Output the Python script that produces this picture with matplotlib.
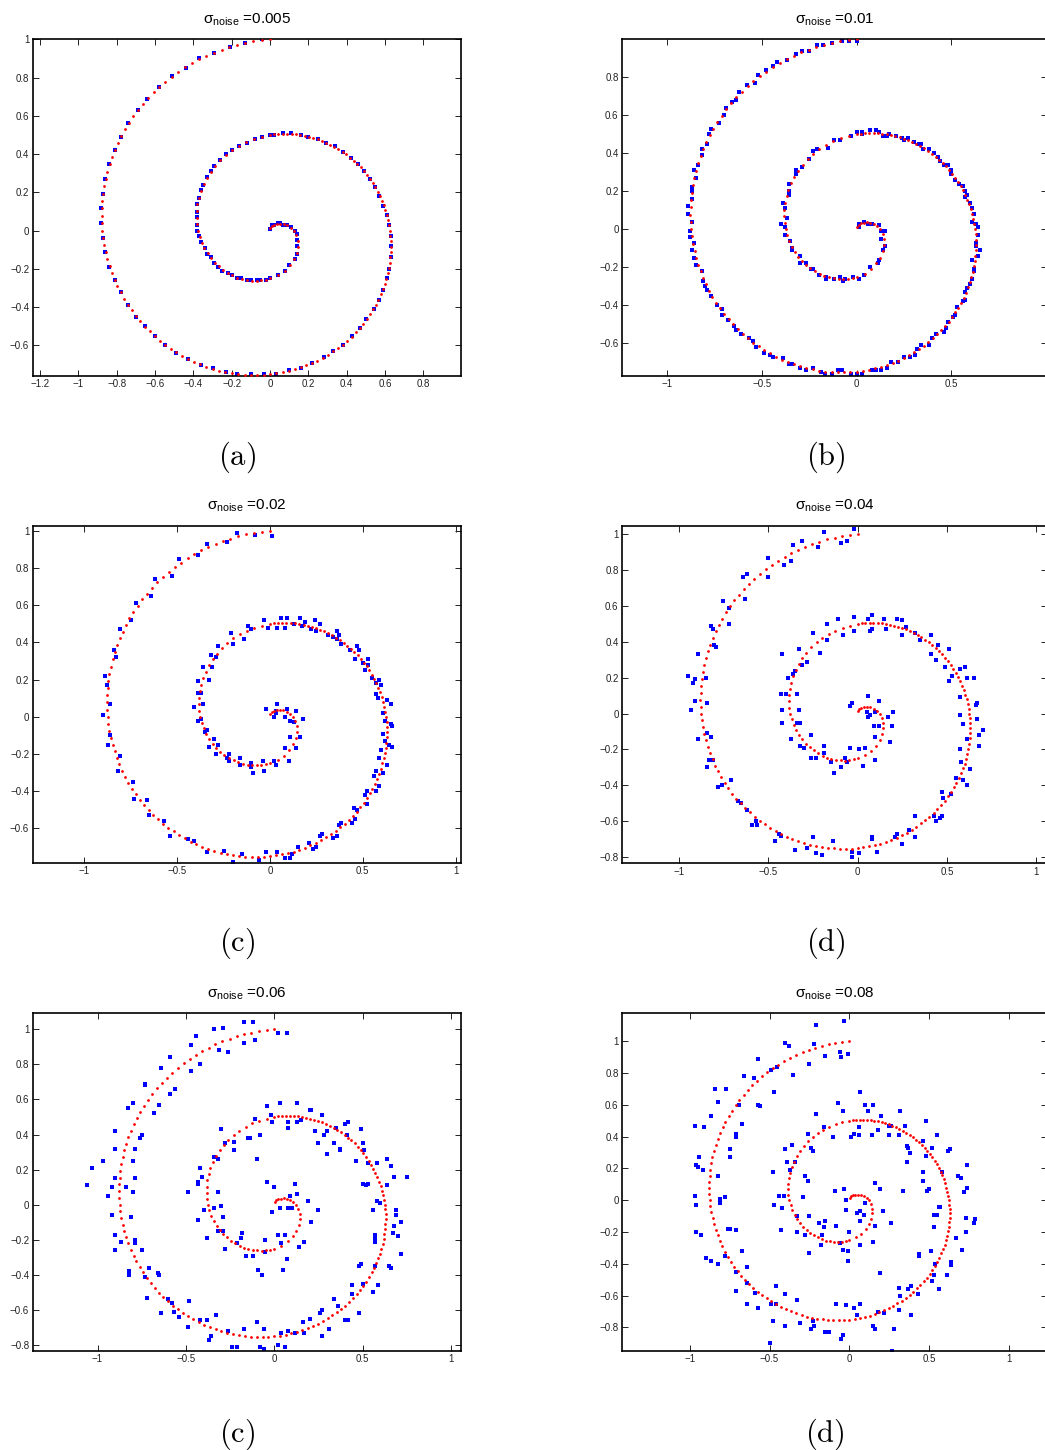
import matplotlib
matplotlib.use('Agg')
import matplotlib.pyplot as plt

# ---------------- data ----------------
# noise-free spiral (red)
spiral_x = [.002,.010,.021,.036,.053,.072,.091,.109,.125,.137,.144,.144,.138,.125,.104,.076,.041,.000,
 -.022,-.046,-.070,-.095,-.120,-.146,-.171,-.196,-.221,-.245,-.267,-.289,-.308,-.326,-.342,-.356,-.367,-.375,
 -.381,-.383,-.382,-.379,-.371,-.361,-.347,-.330,-.309,-.286,-.259,-.229,-.197,-.162,-.124,-.084,-.043,.000,
 .022,.044,.067,.089,.112,.135,.158,.181,.203,.226,.249,.271,.293,.315,.336,.357,.378,.398,.417,.436,.455,.472,.489,.505,.521,.535,.549,.561,.573,.584,.593,.602,.609,.616,.621,.625,
 .628,.630,.630,.629,.627,.624,.619,.613,.606,.598,.588,.577,.565,.552,.537,.521,.504,.486,.467,.446,.425,.402,.379,.354,.329,.302,.275,.247,.218,.189,.159,.128,.097,.065,.033,.000,
 -.033,-.066,-.099,-.133,-.166,-.200,-.233,-.266,-.299,-.332,-.364,-.396,-.427,-.458,-.488,-.518,-.547,-.575,-.602,-.628,-.653,-.677,-.700,-.722,-.742,-.762,-.780,-.796,-.811,-.825,-.837,-.848,-.857,-.865,-.871,-.875,
 -.878,-.879,-.878,-.875,-.871,-.865,-.858,-.848,-.837,-.825,-.810,-.794,-.776,-.757,-.736,-.713,-.689,-.663,-.636,-.607,-.577,-.546,-.513,-.479,-.444,-.408,-.371,-.333,-.293,-.253,-.213,-.171,-.129,-.087,-.043,.000]
spiral_y = [.014,.024,.031,.035,.036,.034,.027,.016,.000,-.024,-.052,-.083,-.116,-.149,-.180,-.209,-.233,-.250,
 -.256,-.260,-.262,-.261,-.258,-.253,-.245,-.234,-.221,-.205,-.187,-.167,-.144,-.119,-.092,-.063,-.032,.000,
 .033,.068,.102,.138,.173,.208,.243,.277,.309,.340,.370,.397,.422,.444,.463,.479,.491,.500,
 .503,.505,.506,.506,.505,.503,.500,.496,.491,.485,.477,.469,.460,.449,.438,.426,.412,.398,.382,.366,.349,.331,.312,.292,.271,.250,.227,.204,.181,.156,.132,.106,.080,.054,.027,.000,
 -.027,-.055,-.083,-.111,-.139,-.167,-.195,-.223,-.251,-.279,-.306,-.333,-.360,-.386,-.412,-.438,-.462,-.486,-.510,-.532,-.554,-.575,-.595,-.613,-.631,-.648,-.664,-.679,-.692,-.704,-.715,-.725,-.733,-.740,-.746,-.750,
 -.753,-.754,-.754,-.752,-.749,-.745,-.738,-.731,-.722,-.711,-.699,-.686,-.671,-.654,-.636,-.617,-.597,-.575,-.551,-.527,-.501,-.474,-.446,-.417,-.386,-.355,-.323,-.290,-.256,-.221,-.186,-.150,-.113,-.076,-.038,.000,
 .038,.077,.116,.154,.193,.232,.270,.309,.347,.384,.422,.458,.494,.530,.564,.598,.631,.663,.694,.723,.752,.779,.805,.830,.853,.875,.895,.914,.931,.946,.959,.971,.981,.989,.996,1.000]

# noisy samples (blue), one list per panel
noisy_a = [(0,.01),(.01,.03),(.02,.03),(.04,.04),(.05,.04),(.07,.03),(.09,.03),(.11,.02),(.13,0),(.14,-.02),(.14,-.05),(.14,-.08),(.14,-.12),(.13,-.15),(.10,-.18),(.08,-.21),(.04,-.23),(0,-.25),
 (-.02,-.26),(-.05,-.26),(-.07,-.26),(-.10,-.26),(-.12,-.26),(-.15,-.25),(-.17,-.25),(-.20,-.23),(-.22,-.22),(-.25,-.21),(-.27,-.19),(-.29,-.17),(-.31,-.14),(-.33,-.12),(-.34,-.09),(-.36,-.06),(-.37,-.03),(-.38,0),
 (-.38,.03),(-.38,.07),(-.38,.10),(-.38,.14),(-.37,.17),(-.36,.21),(-.35,.24),(-.33,.28),(-.31,.31),(-.29,.34),(-.26,.37),(-.23,.40),(-.20,.42),(-.16,.44),(-.12,.46),(-.08,.48),(-.04,.49),(0,.50),
 (.02,.50),(.07,.51),(.11,.51),(.16,.50),(.20,.49),(.25,.48),(.29,.46),(.34,.44),(.38,.41),(.42,.38),(.46,.35),(.49,.31),(.52,.27),(.55,.23),(.57,.18),(.59,.13),(.61,.08),(.62,.03),
 (.63,-.03),(.63,-.08),(.63,-.14),(.62,-.20),(.61,-.25),(.59,-.31),(.57,-.36),(.54,-.41),(.50,-.46),(.47,-.51),(.43,-.55),(.38,-.60),(.33,-.63),(.28,-.66),(.22,-.69),(.16,-.72),(.10,-.73),(.03,-.75),
 (-.03,-.75),(-.10,-.75),(-.17,-.75),(-.23,-.74),(-.30,-.72),(-.36,-.70),(-.43,-.67),(-.49,-.64),(-.55,-.60),(-.60,-.55),(-.65,-.50),(-.70,-.45),(-.74,-.39),(-.78,-.32),(-.81,-.26),(-.84,-.19),(-.86,-.11),(-.87,-.04),
 (-.88,.04),(-.88,.12),(-.87,.19),(-.86,.27),(-.84,.35),(-.81,.42),(-.78,.49),(-.74,.56),(-.69,.63),(-.64,.69),(-.58,.75),(-.51,.81),(-.44,.85),(-.37,.90),(-.29,.93),(-.21,.96),(-.13,.98),(-.04,1.0)]

noisy_b = [(.01,.01),(.01,.02),(.01,.03),(.04,.04),(.06,.03),(.07,.03),(.08,.03),(.12,.02),(.13,-.01),(.15,-.01),(.13,-.05),(.15,-.09),(.14,-.11),(.12,-.16),(.11,-.18),(.07,-.20),(.04,-.24),(.01,-.26),
 (-.02,-.25),(-.06,-.26),(-.07,-.27),(-.09,-.25),(-.12,-.26),(-.16,-.26),(-.16,-.25),(-.20,-.24),(-.23,-.21),(-.24,-.21),(-.27,-.18),(-.30,-.18),(-.30,-.14),(-.34,-.11),(-.34,-.10),(-.35,-.06),(-.38,-.03),(-.38,.01),
 (-.40,.03),(-.37,.06),(-.38,.11),(-.39,.14),(-.36,.18),(-.36,.20),(-.36,.24),(-.32,.29),(-.32,.31),(-.29,.33),(-.25,.37),(-.23,.41),(-.21,.42),(-.15,.43),(-.12,.47),(-.09,.47),(-.03,.49),(0,.51),
 (.03,.51),(.10,.52),(.14,.49),(.17,.50),(.24,.48),(.27,.48),(.33,.45),(.35,.42),(.41,.40),(.44,.36),(.48,.34),(.50,.29),(.54,.24),(.57,.20),(.57,.17),(.61,.11),(.61,.04),(.64,.01),
 (.63,-.07),(.65,-.11),(.61,-.16),(.62,-.22),(.60,-.29),(.57,-.33),(.56,-.38),(.52,-.45),(.48,-.49),(.46,-.54),(.40,-.57),(.34,-.61),(.31,-.66),(.25,-.67),(.18,-.70),(.13,-.74),(.08,-.74),(0,-.76),
 (-.08,-.74),(-.13,-.76),(-.19,-.75),(-.27,-.74),(-.34,-.71),(-.39,-.68),(-.46,-.66),(-.53,-.62),(-.57,-.57),(-.64,-.53),(-.68,-.48),(-.71,-.42),(-.77,-.35),(-.80,-.30),(-.82,-.22),(-.86,-.15),(-.86,-.07),(-.88,-.01),
 (-.89,.08),(-.87,.16),(-.87,.22),(-.86,.31),(-.82,.39),(-.79,.45),(-.77,.53),(-.70,.60),(-.66,.67),(-.62,.72),(-.54,.77),(-.48,.84),(-.42,.88),(-.32,.92),(-.25,.94),(-.18,.97),(-.08,.99),(0,.99),
 (.03,.50),(.07,.52),(.12,.51),(.16,.49),(.21,.49),(.25,.47),(.30,.46),(.34,.45),(.38,.42),(.43,.38),(.46,.34),(.50,.31),(.52,.26),(.56,.23),(.58,.18),(.60,.14),(.62,.08),(.63,.03),
 (.64,-.03),(.63,-.09),(.64,-.14),(.62,-.21),(.61,-.26),(.58,-.31),(.57,-.37),(.53,-.41),(.51,-.46),(.47,-.52),(.42,-.55),(.38,-.61),(.32,-.63),(.28,-.67),(.22,-.70),(.16,-.73),(.10,-.74),(.03,-.76),
 (-.03,-.76),(-.10,-.74),(-.17,-.76),(-.23,-.73),(-.30,-.73),(-.36,-.71),(-.44,-.67),(-.49,-.65),(-.55,-.59),(-.61,-.55),(-.65,-.51),(-.71,-.45),(-.74,-.40),(-.79,-.32),(-.81,-.27),(-.85,-.19),(-.87,-.11),(-.88,-.04),
 (-.87,.04),(-.89,.12),(-.87,.20),(-.85,.27),(-.84,.34),(-.82,.42),(-.78,.50),(-.73,.56),(-.69,.64),(-.64,.68),(-.58,.76),(-.52,.81),(-.44,.86),(-.37,.89),(-.29,.94),(-.21,.97),(-.13,.98),(-.04,.99)]

noisy_c = [(.02,0),(-.02,.04),(.03,.02),(.04,.07),(.03,.03),(.09,.04),(.08,0),(.14,.03),(.11,-.02),(.18,-.01),(.13,-.03),(.16,-.11),(.11,-.11),(.14,-.17),(.08,-.17),(.10,-.24),(.03,-.26),(.02,-.24),
 (-.03,-.29),(-.04,-.24),(-.09,-.30),(-.10,-.25),(-.10,-.27),(-.16,-.22),(-.16,-.26),(-.22,-.24),(-.22,-.20),(-.23,-.22),(-.29,-.20),(-.28,-.15),(-.33,-.16),(-.30,-.12),(-.35,-.08),(-.34,-.07),(-.39,-.02),(-.37,-.01),
 (-.41,.05),(-.36,.07),(-.39,.13),(-.37,.13),(-.39,.19),(-.33,.20),(-.36,.27),(-.31,.27),(-.32,.33),(-.29,.32),(-.28,.38),(-.20,.39),(-.21,.45),(-.14,.42),(-.12,.49),(-.10,.47),(-.03,.52),(-.01,.48),
 (.06,.53),(.08,.48),(.16,.53),(.17,.49),(.24,.52),(.25,.46),(.34,.43),(.36,.46),(.38,.39),(.47,.38),(.46,.31),(.53,.31),(.51,.25),(.57,.18),(.60,.17),(.58,.10),(.65,.07),(.62,-.02),
 (.66,-.05),(.62,-.13),(.64,-.15),(.59,-.22),(.61,-.30),(.56,-.32),(.57,-.40),(.51,-.42),(.47,-.50),(.46,-.55),(.38,-.57),(.36,-.64),(.28,-.63),(.25,-.70),(.21,-.68),(.12,-.74),(.08,-.76),(-.02,-.73),
 (-.06,-.77),(-.15,-.74),(-.20,-.78),(-.25,-.72),(-.34,-.73),(-.41,-.67),(-.44,-.66),(-.54,-.64),(-.57,-.56),(-.65,-.53),(-.66,-.45),(-.73,-.44),(-.74,-.35),(-.82,-.29),(-.81,-.21),(-.87,-.15),(-.86,-.10),(-.90,.01),
 (-.86,.07),(-.88,.17),(-.89,.22),(-.83,.32),(-.84,.36),(-.81,.47),(-.75,.52),(-.72,.61),(-.64,.65),(-.62,.74),(-.53,.76),(-.49,.85),(-.39,.87),(-.34,.93),(-.23,.94),(-.18,.99),(-.08,.98),(.01,.97),
 (.04,.48),(.09,.53),(.13,.50),(.19,.51),(.22,.47),(.27,.50),(.31,.44),(.36,.42),(.37,.44),(.43,.36),(.48,.36),(.50,.29),(.53,.28),(.55,.21),(.59,.20),(.57,.12),(.63,.09),(.61,.02),
 (.65,-.04),(.61,-.09),(.66,-.16),(.60,-.18),(.63,-.26),(.57,-.29),(.59,-.37),(.52,-.40),(.52,-.47),(.45,-.49),(.44,-.57),(.37,-.58),(.34,-.65),(.27,-.64),(.23,-.71),(.15,-.70),(.11,-.76),(.04,-.73)]

noisy_d = [(-.03,.06),(.05,.01),(-.04,.04),(.06,.10),(.10,.01),(.06,-.02),(.12,.07),(.07,-.01),(.20,.01),(.12,-.07),(.17,-.02),(.09,-.07),(.18,-.16),(.10,-.13),(.04,-.19),(.10,-.26),(.01,-.20),(.03,-.29),
 (-.07,-.25),(-.04,-.19),(-.09,-.30),(-.06,-.27),(-.13,-.33),(-.19,-.22),(-.15,-.27),(-.23,-.25),(-.19,-.18),(-.30,-.19),(-.26,-.25),(-.32,-.18),(-.26,-.12),(-.37,-.14),(-.32,-.05),(-.42,-.05),(-.34,-.05),(-.42,.02),
 (-.33,.02),(-.40,.11),(-.34,.11),(-.43,.11),(-.36,.22),(-.39,.20),(-.31,.27),(-.35,.24),(-.28,.29),(-.33,.36),(-.21,.34),(-.25,.45),(-.17,.41),(-.17,.50),(-.08,.44),(-.11,.53),(-.02,.46),(-.02,.54),
 (.07,.46),(.08,.55),(.16,.47),(.15,.53),(.27,.48),(.25,.52),(.35,.41),(.32,.45),(.45,.38),(.41,.33),(.51,.36),(.49,.26),(.60,.26),(.51,.18),(.61,.20),(.57,.09),(.67,.06),(.57,-.01),
 (.67,-.03),(.61,-.14),(.68,-.18),(.57,-.20),(.63,-.31),(.55,-.36),(.59,-.37),(.48,-.47),(.52,-.45),(.43,-.57),(.44,-.60),(.32,-.57),(.32,-.69),(.21,-.69),(.22,-.67),(.11,-.77),(.08,-.69),(-.03,-.80),
 (-.03,-.77),(-.14,-.71),(-.23,-.78),(-.25,-.69),(-.35,-.76),(-.44,-.67),(-.43,-.68),(-.57,-.60),(-.56,-.62),(-.67,-.49),(-.65,-.50),(-.76,-.40),(-.71,-.37),(-.83,-.26),(-.81,-.26),(-.89,-.14),(-.84,-.11),(-.93,.02),
 (-.84,.06),(-.91,.19),(-.85,.20),(-.89,.33),(-.79,.37),(-.82,.49),(-.72,.50),(-.75,.63),(-.63,.64),(-.64,.76),(-.50,.76),(-.50,.87),(-.37,.85),(-.36,.94),(-.22,.93),(-.19,1.01),(-.06,.96),(-.02,1.03),
 (.06,.53),(.08,.47),(.22,.53),(.25,.44),(.41,.44),(.44,.30),(.57,.25),(.53,.21),(.66,.05),(.59,-.06),(.68,-.12),(.58,-.27),(.61,-.40),(.47,-.44),(.46,-.58),(.29,-.65),(.25,-.73),(.08,-.70),
 (.01,-.78),(-.20,-.79),(-.28,-.75),(-.46,-.71),(-.59,-.62),(-.62,-.54),(-.78,-.41),(-.84,-.30),(-.82,-.13),(-.91,.07),(-.92,.17),(-.80,.38),(-.81,.47),(-.72,.59),(-.62,.78),(-.41,.83),(-.31,.96),(-.09,.95),
 (-.95,.21),(-.42,.33),(.19,-.07),(.65,.20),(.70,-.09),(.47,-.57)]

noisy_e = [(-.04,.13),(.08,-.02),(0,.10),(.13,.06),(-.01,-.04),(.12,.12),(.19,.02),(.03,-.02),(.25,-.03),(.09,.05),(.21,-.10),(.10,-.02),(.17,-.21),(.06,-.17),(.14,-.24),(.02,-.17),(.07,-.31),(-.05,-.27),
 (.04,-.22),(-.09,-.37),(-.05,-.20),(-.16,-.29),(-.05,-.27),(-.18,-.16),(-.12,-.29),(-.28,-.25),(-.19,-.19),(-.32,-.15),(-.21,-.22),(-.38,-.19),(-.29,-.07),(-.43,-.09),(-.29,-.15),(-.40,-.03),(-.30,-.01),(-.49,.07),
 (-.34,-.02),(-.43,.13),(-.32,.07),(-.41,.16),(-.43,.12),(-.32,.26),(-.42,.21),(-.28,.35),(-.34,.27),(-.23,.31),(-.30,.43),(-.15,.38),(-.23,.36),(-.11,.49),(-.14,.38),(-.02,.51),(-.08,.40),(.03,.58),
 (-.01,.47),(.13,.58),(.08,.47),(.23,.42),(.21,.54),(.35,.44),(.28,.40),(.42,.47),(.37,.32),(.49,.43),(.37,.31),(.58,.24),(.51,.31),(.66,.22),(.50,.12),(.68,.16),(.58,.02),(.69,-.06),
 (.56,-.03),(.72,-.10),(.57,-.21),(.67,-.16),(.57,-.35),(.66,-.36),(.48,-.35),(.56,-.50),(.44,-.46),(.48,-.62),(.34,-.54),(.40,-.66),(.26,-.62),(.27,-.75),(.12,-.73),(.16,-.67),(.02,-.80),(.04,-.73),
 (-.10,-.67),(-.08,-.81),(-.26,-.72),(-.24,-.81),(-.38,-.66),(-.36,-.75),(-.54,-.64),(-.48,-.55),(-.64,-.62),(-.58,-.56),(-.73,-.41),(-.65,-.40),(-.82,-.40),(-.75,-.26),(-.90,-.26),(-.79,-.20),(-.92,-.06),(-.80,.07),
 (-.94,.05),(-.84,.10),(-.97,.25),(-.80,.25),(-.90,.42),(-.76,.38),(-.80,.58),(-.65,.57),(-.73,.69),(-.56,.66),(-.59,.84),(-.42,.80),(-.44,.96),(-.26,.87),(-.29,1.01),(-.11,.94),(-.12,1.04),(.07,.98),
 (-.04,.56),(.15,.48),(.08,.44),(.20,.54),(.13,.47),(.30,.42),(.27,.51),(.40,.46),(.34,.35),(.50,.35),(.41,.40),(.53,.24),(.46,.25),(.64,.26),(.53,.12),(.64,.11),(.52,.11),(.69,-.03),
 (.60,.01),(.68,-.12),(.57,-.17),(.70,-.18),(.57,-.19),(.65,-.35),(.49,-.34),(.59,-.46),(.44,-.51),(.50,-.45),(.36,-.58),(.42,-.66),(.27,-.60),(.31,-.71),(.17,-.73),(.20,-.65),(.06,-.81),(.08,-.72),
 (-.06,-.82),(-.06,-.71),(-.21,-.81),(-.17,-.71),(-.37,-.77),(-.33,-.63),(-.49,-.70),(-.42,-.66),(-.60,-.54),(-.57,-.61),(-.72,-.53),(-.66,-.39),(-.82,-.38),(-.71,-.36),(-.87,-.21),(-.79,-.22),(-.90,-.17),(-.81,-.07),
 (-.92,.10),(-.79,.15),(-.90,.15),(-.79,.32),(-.90,.32),(-.75,.40),(-.83,.55),(-.68,.52),(-.73,.68),(-.59,.63),(-.64,.78),(-.47,.76),(-.47,.91),(-.31,.88),(-.34,1.00),(-.17,.92),(-.17,1.04),(.02,.98),
 (-1.06,.11),(-1.03,.21),(.75,.16),(.72,-.28),(-.49,.07),(-.10,.26),(.30,.29),(.25,.35),(-.07,-.40),(.05,-.37)]

noisy_f = [(-.09,.06),(.09,-.09),(-.02,0),(.16,.11),(-.02,-.06),(.10,-.02),(-.03,.07),(.21,-.07),(.07,-.13),(.19,.07),(.05,-.08),(.26,-.14),(.07,-.07),(.15,-.26),(0,-.20),(.16,-.16),(-.01,-.32),(.07,-.28),
 (-.08,-.16),(-.01,-.38),(-.17,-.22),(-.04,-.31),(-.15,-.13),(-.06,-.27),(-.25,-.33),(-.16,-.17),(-.33,-.20),(-.18,-.28),(-.33,-.10),(-.19,-.14),(-.43,-.19),(-.28,-.22),(-.42,-.05),(-.25,-.10),(-.41,.03),(-.29,.02),
 (-.47,-.03),(-.26,.12),(-.44,.03),(-.34,.24),(-.48,.18),(-.28,.15),(-.40,.32),(-.23,.31),(-.39,.24),(-.26,.42),(-.36,.35),(-.16,.46),(-.24,.33),(-.10,.40),(-.21,.54),(.03,.42),(-.07,.61),(.06,.41),
 (-.04,.56),(.18,.44),(.10,.60),(.25,.47),(.14,.41),(.32,.56),(.25,.41),(.46,.37),(.35,.47),(.52,.33),(.36,.24),(.63,.32),(.46,.18),(.62,.31),(.46,.12),(.74,.08),(.56,-.04),(.72,.05),
 (.53,-.09),(.78,-.14),(.55,-.09),(.71,-.31),(.51,-.32),(.64,-.41),(.44,-.34),(.61,-.47),(.43,-.59),(.53,-.47),(.31,-.55),(.39,-.72),(.22,-.71),(.32,-.60),(.15,-.79),(.03,-.68),(.16,-.81),(-.05,-.87),
 (-.02,-.66),(-.22,-.79),(-.13,-.83),(-.33,-.63),(-.23,-.76),(-.48,-.76),(-.40,-.59),(-.64,-.65),(-.49,-.65),(-.71,-.45),(-.64,-.52),(-.82,-.40),(-.67,-.32),(-.87,-.38),(-.71,-.19),(-.96,-.20),(-.81,-.02),(-.96,-.03),
 (-.78,.02),(-.95,.21),(-.82,.15),(-.94,.27),(-.71,.42),(-.87,.53),(-.67,.48),(-.77,.70),(-.56,.59),(-.66,.78),(-.47,.68),(-.57,.89),(-.35,.79),(-.40,.99),(-.15,.91),(-.21,1.10),(-.01,.92),(-.03,1.13),
 (.12,.56),(.01,.40),(.15,.60),(.06,.46),(.31,.41),(.20,.53),(.36,.34),(.26,.47),(.48,.50),(.38,.30),(.55,.41),(.37,.33),(.58,.18),(.48,.28),(.70,.14),(.50,.07),(.68,.15),(.49,.06),
 (.73,-.11),(.57,-.04),(.67,-.24),(.53,-.17),(.73,-.20),(.54,-.40),(.64,-.39),(.44,-.35),(.56,-.56),(.39,-.54),(.52,-.51),(.31,-.69),(.37,-.56),(.18,-.70),(.28,-.81),(.07,-.65),(.15,-.79),(-.04,-.85),
 (.05,-.72),(-.15,-.83),(-.08,-.65),(-.31,-.77),(-.24,-.81),(-.46,-.65),(-.40,-.79),(-.57,-.68),(-.46,-.54),(-.71,-.57),(-.59,-.58),(-.78,-.35),(-.64,-.42),(-.90,-.36),(-.76,-.18),(-.93,-.22),(-.75,-.18),(-.97,.03),
 (-.81,.01),(-.96,.22),(-.75,.27),(-.92,.19),(-.75,.32),(-.91,.46),(-.71,.40),(-.82,.62),(-.57,.60),(-.69,.60),(-.49,.82),(-.60,.77),(-.38,.97),(-.45,.84),(-.22,.98),(-.25,.86),(-.05,.90),(-.06,.93),
 (-.84,.70),(-.97,.47),(.79,-.12),(.74,.22),(.07,.68),(-.37,.19),(.19,-.46),(.27,-.95),(-.50,-.90),(.34,.06)]

noise_levels = ['0.005', '0.01', '0.02', '0.04', '0.06', '0.08']
captions = ['(a)', '(b)', '(c)', '(d)', '(c)', '(d)']
xticks_a = [-1.2, -1, -0.8, -0.6, -0.4, -0.2, 0, 0.2, 0.4, 0.6, 0.8]
yticks_a = [-0.6, -0.4, -0.2, 0, 0.2, 0.4, 0.6, 0.8, 1]
xticks_b = [-1, -0.5, 0, 0.5]
yticks_b = [-0.6, -0.4, -0.2, 0, 0.2, 0.4, 0.6, 0.8]
xticks_c = [-1, -0.5, 0, 0.5, 1]
yticks_c = [-0.6, -0.4, -0.2, 0, 0.2, 0.4, 0.6, 0.8, 1]
xticks_def = [-1, -0.5, 0, 0.5, 1]
yticks_def = [-0.8, -0.6, -0.4, -0.2, 0, 0.2, 0.4, 0.6, 0.8, 1]

# ---------------- style ----------------
plt.rcParams['font.family'] = ['Liberation Sans', 'DejaVu Sans']
plt.rcParams['mathtext.fontset'] = 'custom'
plt.rcParams['mathtext.rm'] = 'Liberation Sans'
plt.rcParams['mathtext.it'] = 'Liberation Sans:italic'
plt.rcParams['mathtext.bf'] = 'Liberation Sans:bold'

W, H = 1045, 1450
fig = plt.figure(figsize=(W / 100, H / 100), dpi=100)

# layout: pixel boxes (left, top, right, bottom) and axis limits
layout = [
    dict(box=(32.7, 39.3, 461, 375.7), xlim=(-1.238, 0.996), ylim=(-0.758, 1.0),
         xt=xticks_a, yt=yticks_a, pts=noisy_a, cap=(237.5, 457)),
    dict(box=(622, 39.3, 1047, 375.7), xlim=(-1.240, 1.005), ylim=(-0.771, 1.0),
         xt=xticks_b, yt=yticks_b, pts=noisy_b, cap=(826, 457)),
    dict(box=(32.7, 525.7, 461, 862.7), xlim=(-1.278, 1.029), ylim=(-0.785, 1.028),
         xt=xticks_c, yt=yticks_c, pts=noisy_c, cap=(237.5, 943)),
    dict(box=(622, 526, 1047, 863.3), xlim=(-1.317, 1.059), ylim=(-0.835, 1.046),
         xt=xticks_def, yt=yticks_def, pts=noisy_d, cap=(826, 943)),
    dict(box=(32.7, 1013.3, 461, 1351), xlim=(-1.367, 1.057), ylim=(-0.834, 1.091),
         xt=xticks_def, yt=yticks_def, pts=noisy_e, cap=(237, 1434)),
    dict(box=(622, 1013.3, 1047, 1350.7), xlim=(-1.425, 1.240), ylim=(-0.946, 1.176),
         xt=xticks_def, yt=yticks_def, pts=noisy_f, cap=(825, 1434)),
]


def fmt(v):
    s = '{:g}'.format(v)
    return s.replace('-', '\u2212')


for p, lev, cap in zip(layout, noise_levels, captions):
    l, t, r, b = p['box']
    ax = fig.add_axes([l / W, 1 - b / H, (r - l) / W, (b - t) / H])
    bx = [q[0] for q in p['pts']]
    by = [q[1] for q in p['pts']]
    ax.scatter(bx, by, s=5.5, c='#0000ff', marker='s', linewidths=0, zorder=2)
    ax.scatter(spiral_x, spiral_y, s=4.0, c='#ff0000', marker='o', linewidths=0, zorder=3)
    ax.set_xlim(*p['xlim'])
    ax.set_ylim(*p['ylim'])
    ax.set_xticks(p['xt'])
    ax.set_yticks(p['yt'])
    ax.set_xticklabels([fmt(v) for v in p['xt']])
    ax.set_yticklabels([fmt(v) for v in p['yt']])
    ax.tick_params(direction='in', top=True, right=True, length=4, width=0.7,
                   labelsize=7, pad=2.5, colors='#222222')
    for sp in ax.spines.values():
        sp.set_linewidth(1.2)
    ax.annotate(r'$\mathrm{\sigma}_{\mathrm{noise}}$ =' + lev, xy=(0.5, 1.0),
                xycoords='axes fraction', xytext=(0, 11.5), textcoords='offset points',
                ha='center', va='baseline', fontsize=11)
    cx, cy = p['cap']
    fig.text(cx / W, 1 - cy / H, r'$\mathrm{' + cap + '}$', math_fontfamily='cm',
             fontsize=22, ha='center', va='center')

fig.savefig('out.png', dpi=100)
